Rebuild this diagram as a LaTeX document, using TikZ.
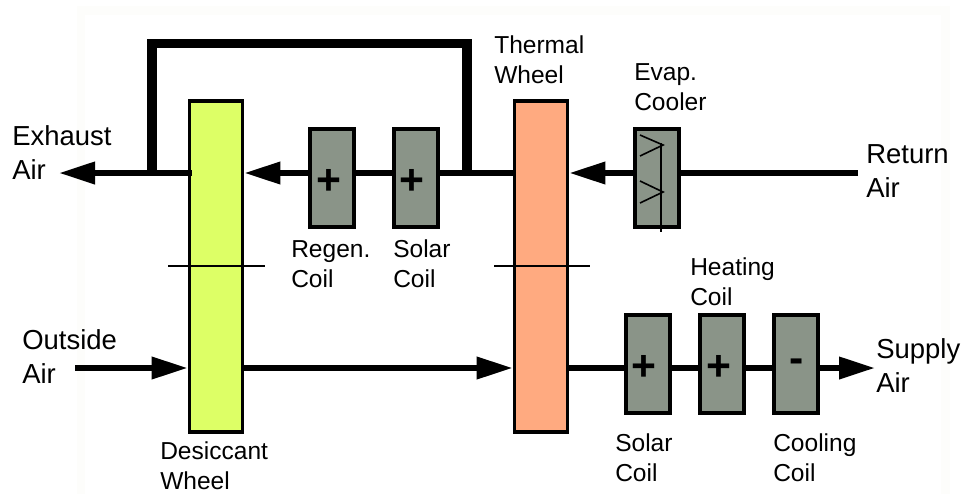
\documentclass[tikz,border=0pt]{standalone}
\usepackage{fontspec}
\setmainfont{Liberation Sans}
\usetikzlibrary{arrows.meta,positioning,calc}

\begin{document}
\begin{tikzpicture}[
            x=0.75pt,y=-0.75pt,
            >=Stealth,
            wheelbox/.style={draw,line width=2.8pt,minimum width=39.7pt,minimum height=248.7pt,inner sep=0pt},
            coilbox/.style={draw,line width=2.8pt,fill=coilgray,minimum width=33.5pt,minimum height=74pt,inner sep=0pt},
            airline/.style={line width=4.4pt},
            airarrow/.style={airline,-{Triangle[length=27pt,width=16pt]}},
            bypass/.style={line width=7pt},
            divider/.style={line width=1.5pt},
            damper/.style={line width=1.2pt},
            sign/.style={font=\fontsize{32}{32}\selectfont\bfseries,inner sep=0pt},
            biglabel/.style={font=\fontsize{20.6}{25.5}\selectfont,align=left,anchor=west,inner sep=0pt},
            smalllabel/.style={font=\fontsize{18.4}{22.5}\selectfont,align=left,anchor=west,inner sep=0pt}
        ]

        % Define colors
        \definecolor{coilgray}{RGB}{138,148,136};
        \definecolor{desiccantgreen}{RGB}{221,255,102};
        \definecolor{thermalorange}{RGB}{255,170,128};
        \definecolor{paleframe}{RGB}{253,253,251};

        \useasboundingbox (0,0) rectangle (961,494);

        % Faint frame of the page
        \fill[paleframe] (77,6) rectangle (950,494);
        \fill[white] (85,15) rectangle (941,494);

        % Rows of the air lines
        \coordinate (toprow) at (0,173);
        \coordinate (bottomrow) at (0,368);

        % Wheels
        \node[wheelbox,fill=desiccantgreen] (desiccant) at (216,266.5) {};
        \node[wheelbox,fill=thermalorange] (thermal) at (541,266.5) {};

        % Coils
        \node[coilbox] (regen) at (332,178) {};
        \node[coilbox] (solartop) at (416,178) {};
        \node[coilbox] (evap) at (657,178) {};
        \node[coilbox] (solarlow) at (648,364) {};
        \node[coilbox] (heating) at (722,364) {};
        \node[coilbox] (cooling) at (796,364) {};

        % Signs in the coils
        \node[sign] (regensign) at (329,182) {+};
        \node[sign] (solartopsign) at (412,182) {+};
        \node[sign] (solarlowsign) at (644,368) {+};
        \node[sign] (heatingsign) at (719,368) {+};
        \node[sign] (coolingsign) at (797,366) {-};

        % Labels
        \node[biglabel] (exhaust) at (12,153) {Exhaust\\Air};
        \node[biglabel] (return) at (866,171) {Return\\Air};
        \node[biglabel] (outside) at (22,357) {Outside\\Air};
        \node[biglabel] (supply) at (876,366) {Supply\\Air};
        \node[smalllabel] (thermallabel) at (494,60) {Thermal\\Wheel};
        \node[smalllabel] (evaplabel) at (634,87) {Evap.\\Cooler};
        \node[smalllabel] (regenlabel) at (291,264) {Regen.\\Coil};
        \node[smalllabel] (solartoplabel) at (393,264) {Solar\\Coil};
        \node[smalllabel] (heatinglabel) at (690,282) {Heating\\Coil};
        \node[smalllabel] (solarlowlabel) at (615,458) {Solar\\Coil};
        \node[smalllabel] (coolinglabel) at (773,458) {Cooling\\Coil};
        \node[smalllabel] (desiccantlabel) at (160,466) {Desiccant\\Wheel};

        % Free ends of the lines
        \coordinate (exhausttip) at (59,173);
        \coordinate (returnend) at (858,173);
        \coordinate (outsideend) at (75,368);
        \coordinate (supplytip) at (875,368);
        \coordinate (bypassleft) at (152,173);
        \coordinate (bypassright) at (467,173);
        \coordinate (bypasstop) at (0,43.5);

        % Top air line
        \draw[airarrow] ($(desiccant.west |- toprow)+(4,0)$) -- (exhausttip);
        \draw[airarrow] (regen.west |- toprow) -- (desiccant.east |- toprow);
        \draw[airline] (solartop.west |- toprow) -- (regen.east |- toprow);
        \draw[airline] (thermal.west |- toprow) -- (solartop.east |- toprow);
        \draw[airarrow] ($(evap.west |- toprow)+(3,0)$) -- (thermal.east |- toprow);
        \draw[airline] (returnend) -- ($(evap.east |- toprow)+(-3,0)$);

        % Bypass round the desiccant wheel
        \draw[bypass] (bypassleft) -- (bypassleft |- bypasstop) -- (bypassright |- bypasstop) -- (bypassright);

        % Bottom air line
        \draw[airarrow] (outsideend) -- (desiccant.west |- bottomrow);
        \draw[airarrow] (desiccant.east |- bottomrow) -- (thermal.west |- bottomrow);
        \draw[airline] (thermal.east |- bottomrow) -- (solarlow.west |- bottomrow);
        \draw[airline] (solarlow.east |- bottomrow) -- ($(heating.west |- bottomrow)+(2,0)$);
        \draw[airline] (heating.east |- bottomrow) -- ($(cooling.west |- bottomrow)+(2,0)$);
        \draw[airarrow] (cooling.east |- bottomrow) -- (supplytip);

        % Lines across the wheels
        \draw[divider] (168,266) -- (265,266);
        \draw[divider] (494,266) -- (590,266);

        % Dampers of the evaporative cooler
        \draw[damper] (661,143) -- (661,232);
        \draw[damper] (640,135) -- (663,145) -- (640,156);
        \draw[damper] (640,181) -- (663,192) -- (640,203);

\end{tikzpicture}
\end{document}
